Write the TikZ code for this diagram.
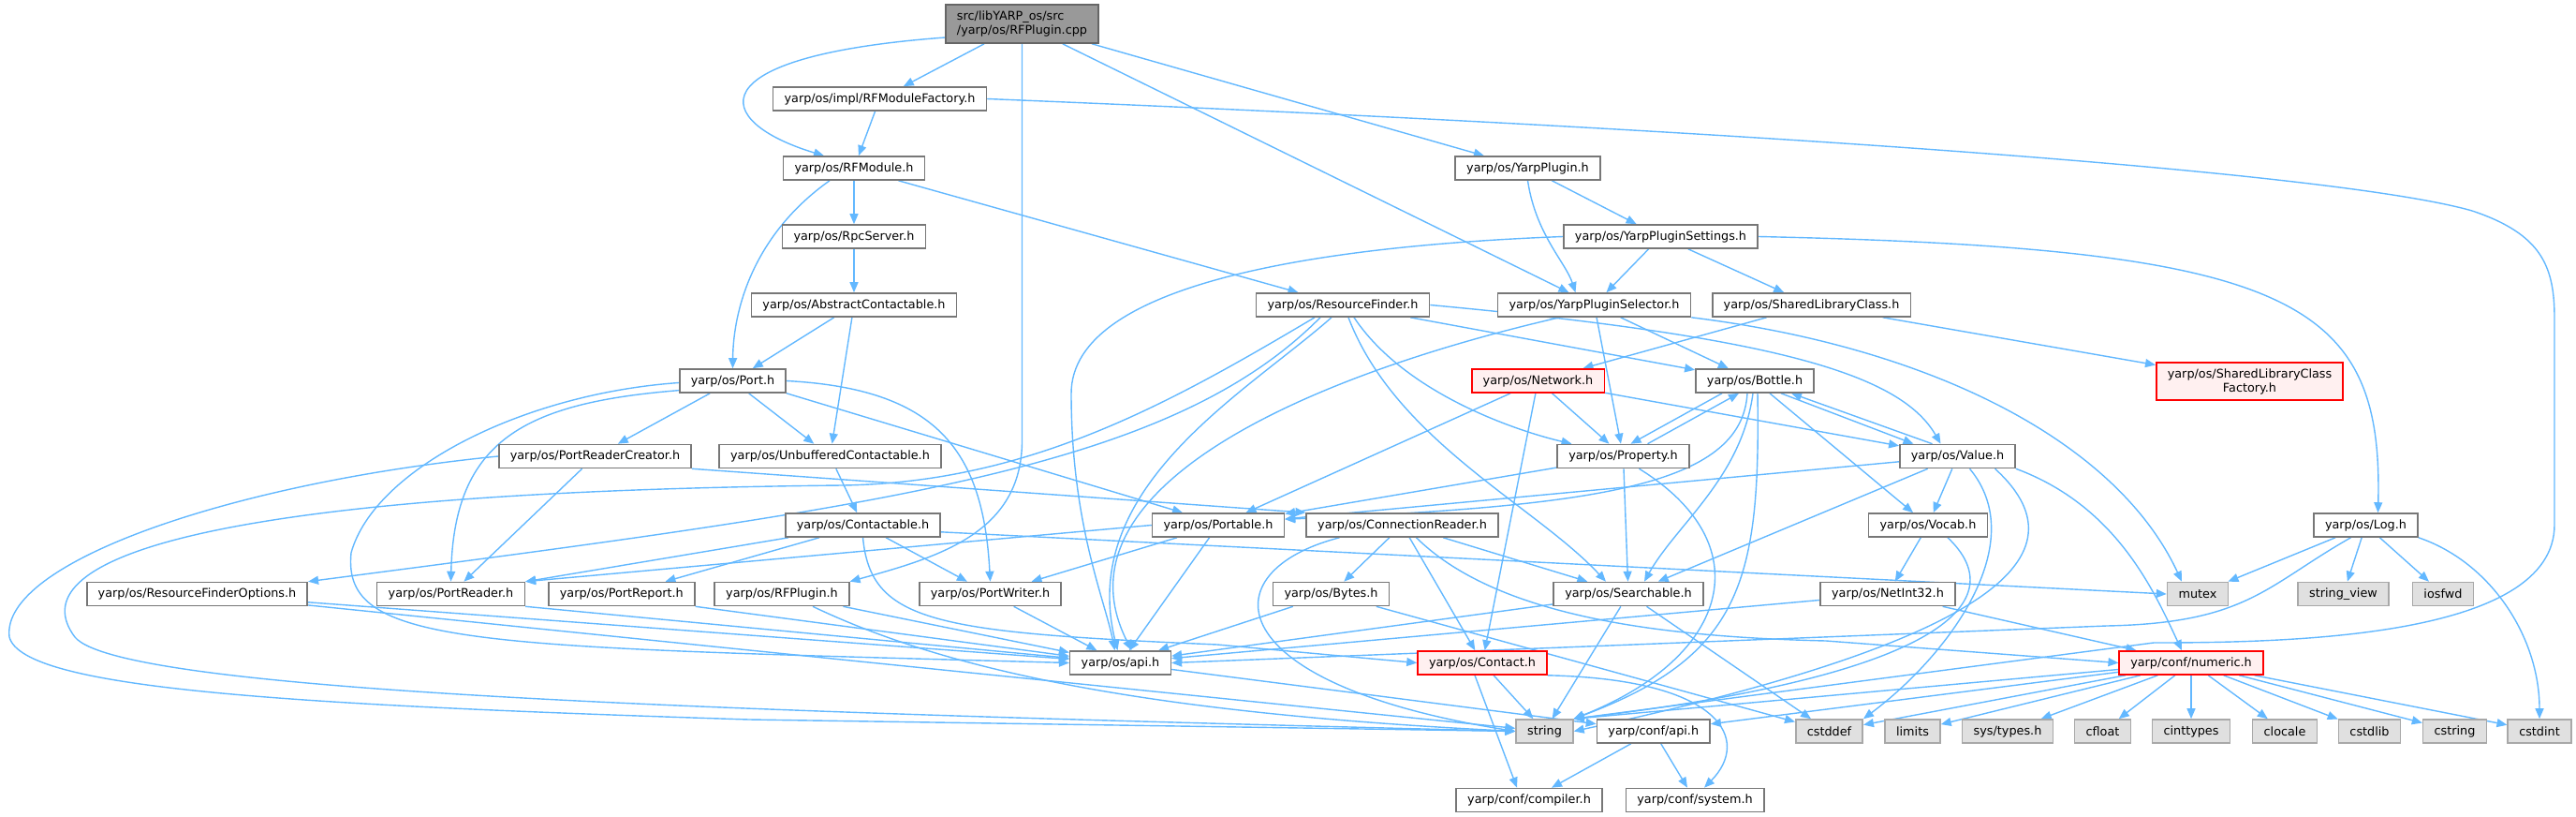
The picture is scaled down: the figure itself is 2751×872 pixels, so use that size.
\documentclass[tikz,border=0pt]{standalone}
\usepackage{fontspec}
\setmainfont{DejaVu Sans}
\usetikzlibrary{positioning,arrows.meta,backgrounds}

\definecolor{edgeblue}{HTML}{63B8FF}
\definecolor{boxline}{HTML}{777777}
\definecolor{sysline}{HTML}{A8A8A8}
\definecolor{sysfill}{HTML}{E0E0E0}
\definecolor{mainfill}{HTML}{999999}
\definecolor{mainline}{HTML}{666666}
\definecolor{truncfill}{HTML}{FFF0F0}

\begin{document}
\begin{tikzpicture}[
  x=1pt, y=-1pt,
  node distance=24pt,
  file/.style={draw=boxline, line width=1.6pt, fill=white, minimum height=25pt,
    inner xsep=12pt, inner ysep=0pt, font=\fontsize{12.8pt}{15pt}\selectfont},
  sysfile/.style={file, draw=sysline, fill=sysfill},
  truncfile/.style={file, draw=red, fill=truncfill},
  mainfile/.style={file, draw=mainline, fill=mainfill, minimum height=41pt, align=left},
  dep/.style={-{Triangle[length=11pt,width=9pt]}, draw=edgeblue, line width=1.4pt}
]
\useasboundingbox (0,0) rectangle (2751,872);

  % source file and its direct includes
  \node[mainfile] (cpp) at (1091.5,25.5) {src/libYARP\_os/src\\/yarp/os/RFPlugin.cpp};
  \node[file] (rfmodfactory) at (939.5,105.5) {yarp/os/impl/RFModuleFactory.h};
  \node[file] (rfmodule) at (912,179.5) {yarp/os/RFModule.h};
  \node[file] (yarpplugin) at (1631.5,179.5) {yarp/os/YarpPlugin.h};
  \node[file] (rpcserver) at (912,252.5) {yarp/os/RpcServer.h};
  \node[file] (settings) at (1773.5,252.5) {yarp/os/YarpPluginSettings.h};
  \node[file] (abscont) at (912,325.5) {yarp/os/AbstractContactable.h};
  \node[file] (resfinder) at (1434,325.5) {yarp/os/ResourceFinder.h};
  \node[file] (selector) at (1702.5,325.5) {yarp/os/YarpPluginSelector.h};
  \node[file] (sharedlib) at (1934.5,325.5) {yarp/os/SharedLibraryClass.h};
  \node[file] (port) at (782.5,406.5) {yarp/os/Port.h};
  \node[truncfile] (network) at (1642.5,406.5) {yarp/os/Network.h};
  \node[file] (bottle) at (1874,406.5) {yarp/os/Bottle.h};
  \node[truncfile, align=center, minimum height=40pt] (slfactory) at (2402.5,407) {yarp/os/SharedLibraryClass\\Factory.h};
  \node[file] (prcreator) at (635.5,487) {yarp/os/PortReaderCreator.h};
  \node[file] (unbuffered) at (886.5,487) {yarp/os/UnbufferedContactable.h};
  \node[file] (property) at (1733.5,487) {yarp/os/Property.h};
  \node[file] (value) at (2090.5,487) {yarp/os/Value.h};
  \node[file] (contactable) at (921.5,560.5) {yarp/os/Contactable.h};
  \node[file] (portable) at (1301,560.5) {yarp/os/Portable.h};
  \node[file] (connreader) at (1497.5,560.5) {yarp/os/ConnectionReader.h};
  \node[file] (vocab) at (2059,560.5) {yarp/os/Vocab.h};
  \node[file] (log) at (2526.5,560.5) {yarp/os/Log.h};
  \node[file] (rfoptions) at (210.5,634) {yarp/os/ResourceFinderOptions.h};
  \node[file] (portreader) at (481.5,634) {yarp/os/PortReader.h};
  \node[file, right=24pt of portreader] (portreport) {yarp/os/PortReport.h};
  \node[file] (rfplugin) at (835,634) {yarp/os/RFPlugin.h};
  \node[file] (portwriter) at (1057.5,634) {yarp/os/PortWriter.h};
  \node[file] (bytes) at (1421.5,634) {yarp/os/Bytes.h};
  \node[file] (searchable) at (1739,634) {yarp/os/Searchable.h};
  \node[file] (netint) at (2016,634) {yarp/os/NetInt32.h};
  \node[sysfile] (mutex) at (2347,634) {mutex};
  \node[sysfile] (strview) at (2502.5,634) {string\_view};
  \node[sysfile, right=24pt of strview] (iosfwd) {iosfwd};
  \node[file] (osapi) at (1196.5,707.5) {yarp/os/api.h};
  \node[truncfile] (contact) at (1583,707.5) {yarp/os/Contact.h};
  \node[truncfile] (numeric) at (2340,707.5) {yarp/conf/numeric.h};
  % bottom rows
  \node[sysfile] (string) at (1649.5,780.5) {string};
  \node[file, right=24pt of string] (confapi) {yarp/conf/api.h};
  \node[sysfile] (cstddef) at (1953.5,780.5) {cstddef};
  \node[sysfile] (limits) at (2042.5,780.5) {limits};
  \node[sysfile] (systypes) at (2144,780.5) {sys/types.h};
  \node[sysfile] (cfloat) at (2245.5,780.5) {cfloat};
  \node[sysfile] (cinttypes) at (2340,780.5) {cinttypes};
  \node[sysfile] (clocale) at (2440,780.5) {clocale};
  \node[sysfile] (cstdlib) at (2530.5,780.5) {cstdlib};
  \node[sysfile] (cstring) at (2621.5,780.5) {cstring};
  \node[sysfile] (cstdint) at (2712,780.5) {cstdint};
  \node[file] (compiler) at (1633,854) {yarp/conf/compiler.h};
  \node[file] (system) at (1810,854) {yarp/conf/system.h};

\begin{pgfonlayer}{background}
  % from the source file
  \draw[dep] (cpp) -- (rfmodfactory);
  \draw[dep] (cpp.190) .. controls (740,60) and (760,130) .. ([xshift=-32pt]rfmodule.north);
  \draw[dep] (cpp.south) -- (1091.5,470) .. controls (1091.5,570) and (1000,595) .. (rfplugin.north east);
  \draw[dep] (cpp) -- (selector);
  \draw[dep] (cpp) -- (yarpplugin);
  % module side
  \draw[dep] (rfmodfactory) -- (rfmodule);
  \draw[dep] (rfmodfactory.east) .. controls (1900,140) and (2500,185) .. (2640,225)
    .. controls (2715,250) and (2728,285) .. (2728,340) -- (2728,560)
    .. controls (2728,680) and (2450,686) .. (2300,686) -- (string.north east);
  \draw[dep] ([xshift=-26pt]rfmodule.south) .. controls (805,250) and (783,330) .. (port.north);
  \draw[dep] (rfmodule) -- (rpcserver);
  \draw[dep] (rfmodule) -- (resfinder);
  \draw[dep] (rpcserver) -- (abscont);
  \draw[dep] (abscont) -- (port);
  \draw[dep] (abscont) -- (unbuffered);
  % plugin side
  \draw[dep] (yarpplugin.south) .. controls (1640,250) and (1672,280) .. ([xshift=-20pt]selector.north);
  \draw[dep] (yarpplugin) -- (settings);
  \draw[dep] (settings) -- (selector);
  \draw[dep] (settings) -- (sharedlib);
  \draw[dep] (settings.west) .. controls (1420,262) and (1144,300) .. (1144,420)
    .. controls (1144,560) and (1180,640) .. ([xshift=-6pt]osapi.north);
  \draw[dep] (settings.east) .. controls (2450,265) and (2545,320) .. ([xshift=13pt]log.north);
  \draw[dep] (selector) -- (bottle);
  \draw[dep] (selector) -- (property);
  \draw[dep] ([xshift=-37pt]selector.south) .. controls (1400,400) and (1120,520) .. ([xshift=12pt]osapi.north);
  \draw[dep] (selector.south east) .. controls (2060,370) and (2260,470) .. ([xshift=-17pt]mutex.north);
  \draw[dep] (sharedlib) -- (network);
  \draw[dep] (sharedlib) -- (slfactory);
  % resource finder
  \draw[dep] ([xshift=-24pt]resfinder.south) .. controls (1250,500) and (950,540) .. (rfoptions.north east);
  \draw[dep] ([xshift=-30pt]resfinder.south) .. controls (1250,430) and (1100,515) .. (900,518)
    .. controls (200,525) and (20,600) .. (80,680) .. controls (130,740) and (800,760) .. (string.west);
  \draw[dep] ([xshift=-12pt]resfinder.south) .. controls (1330,420) and (1150,520) .. ([xshift=-3pt]osapi.north);
  \draw[dep] ([xshift=6pt]resfinder.south) .. controls (1490,470) and (1640,540) .. ([xshift=-24pt]searchable.north);
  \draw[dep] ([xshift=12pt]resfinder.south) .. controls (1500,420) and (1620,460) .. ([xshift=-55pt]property.north);
  \draw[dep] (resfinder) -- (bottle);
  \draw[dep] (resfinder.east) .. controls (1900,360) and (2030,400) .. ([xshift=-18pt]value.north);
  % port
  \draw[dep] (port) -- (prcreator);
  \draw[dep] (port) -- (unbuffered);
  \draw[dep] (port.190) .. controls (560,430) and (485,470) .. (portreader.north);
  \draw[dep] (port.182) .. controls (560,420) and (400,500) .. (375,590)
    .. controls (365,690) and (500,690) .. (osapi.west);
  \draw[dep] (port.south east) -- ([xshift=-38pt]portable.north);
  \draw[dep] (port.east) .. controls (1000,415) and (1050,480) .. (portwriter.north);
  % network
  \draw[dep] (network) -- (portable);
  \draw[dep] (network) -- (contact);
  \draw[dep] (network) -- (property);
  \draw[dep] (network) -- (value);
  % bottle, property, value
  \draw[dep] ([xshift=-35pt]bottle.south) -- ([xshift=8pt]property.north);
  \draw[dep] ([xshift=26pt]property.north) -- ([xshift=-17pt]bottle.south);
  \draw[dep] ([xshift=28pt]bottle.south) -- ([xshift=-47pt]value.north);
  \draw[dep] ([xshift=-27pt]value.north) -- ([xshift=39pt]bottle.south);
  \draw[dep] ([xshift=-8pt]bottle.south) .. controls (1860,520) and (1700,540) .. (portable.5);
  \draw[dep] ([xshift=-2pt]bottle.south) .. controls (1860,510) and (1790,560) .. ([xshift=17pt]searchable.north);
  \draw[dep] ([xshift=3pt]bottle.south) .. controls (1880,620) and (1860,700) .. (string.north east);
  \draw[dep] (bottle) -- (vocab);
  \draw[dep] (property) -- (portable);
  \draw[dep] (property) -- (searchable);
  \draw[dep] ([xshift=17pt]property.south) .. controls (1880,580) and (1850,700) .. (string.north east);
  \draw[dep] (value) -- (portable);
  \draw[dep] (value) -- (vocab);
  \draw[dep] (value) -- (searchable);
  \draw[dep] ([xshift=13pt]value.south) .. controls (2170,580) and (2080,700) .. (cstddef.north east);
  \draw[dep] ([xshift=40pt]value.south) .. controls (2240,600) and (2100,690) .. (string.east);
  \draw[dep] (value.south east) .. controls (2260,540) and (2300,630) .. ([xshift=-10pt]numeric.north);
  \draw[dep] (vocab) -- (netint);
  \draw[dep] ([xshift=21pt]vocab.south) .. controls (2150,640) and (2080,720) .. (string.north east);
  \draw[dep] (netint) -- (osapi);
  \draw[dep] (netint) -- (numeric);
  % log
  \draw[dep] (log) -- (mutex);
  \draw[dep] (log) -- (strview);
  \draw[dep] (log) -- (iosfwd);
  \draw[dep] (log.south east) .. controls (2660,600) and (2712,680) .. (cstdint.north);
  \draw[dep] ([xshift=-16pt]log.south) .. controls (2420,625) and (2400,665) .. (2250,668) -- (osapi.east);
  % contactables and readers
  \draw[dep] (unbuffered) -- (contactable);
  \draw[dep] (contactable) -- (portreader);
  \draw[dep] (contactable) -- (portreport);
  \draw[dep] (contactable) -- (portwriter);
  \draw[dep] (contactable.-5) -- (mutex.west);
  \draw[dep] (contactable.south) .. controls (930,665) and (1000,675) .. (1300,688) -- (contact.west);
  \draw[dep] (prcreator) -- (portreader);
  \draw[dep] (prcreator.south east) -- (connreader.north west);
  \draw[dep] (prcreator.west) .. controls (250,515) and (0,600) .. (10,680)
    .. controls (25,735) and (300,752) .. (800,768) -- (string.west);
  \draw[dep] (portable.west) -- (portreader.north east);
  \draw[dep] (portable) -- (portwriter);
  \draw[dep] (portable) -- (osapi);
  % connection reader
  \draw[dep] (connreader) -- (bytes);
  \draw[dep] (connreader) -- (contact);
  \draw[dep] (connreader) -- (searchable);
  \draw[dep] ([xshift=-67pt]connreader.south) .. controls (1290,610) and (1300,730) .. (string.west);
  \draw[dep] ([xshift=15pt]connreader.south) .. controls (1600,660) and (1780,680) .. (1950,684) -- (numeric.west);
  % down to the api headers
  \draw[dep] (rfoptions) -- (osapi);
  \draw[dep] (rfoptions) -- (string);
  \draw[dep] (portreader.south east) -- (osapi);
  \draw[dep] (portreport.south east) -- (osapi);
  \draw[dep] (rfplugin) -- (osapi);
  \draw[dep] ([xshift=33pt]rfplugin.south) .. controls (1000,710) and (1200,760) .. (string.west);
  \draw[dep] (portwriter) -- (osapi);
  \draw[dep] (bytes) -- (osapi);
  \draw[dep] (bytes) -- (cstddef);
  \draw[dep] (searchable) -- (osapi);
  \draw[dep] (searchable) -- (string);
  \draw[dep] (searchable) -- (cstddef);
  \draw[dep] (osapi) -- (confapi);
  \draw[dep] (contact) -- (string);
  \draw[dep] ([xshift=-8pt]contact.south) -- ([xshift=-13pt]compiler.north);
  \draw[dep] (contact.south east) .. controls (1840,725) and (1870,790) .. ([xshift=10pt]system.north);
  \draw[dep] (confapi) -- (compiler);
  \draw[dep] (confapi) -- (system);
  % numeric fan
  \draw[dep] (numeric) -- (string.north east);
  \draw[dep] (numeric) -- (confapi);
  \draw[dep] (numeric) -- (cstddef);
  \draw[dep] (numeric) -- (limits);
  \draw[dep] (numeric) -- (systypes);
  \draw[dep] (numeric) -- (cfloat);
  \draw[dep] (numeric) -- (cinttypes);
  \draw[dep] (numeric) -- (clocale);
  \draw[dep] (numeric) -- (cstdlib);
  \draw[dep] (numeric) -- (cstring);
  \draw[dep] (numeric) -- (cstdint);
\end{pgfonlayer}
\end{tikzpicture}
\end{document}
